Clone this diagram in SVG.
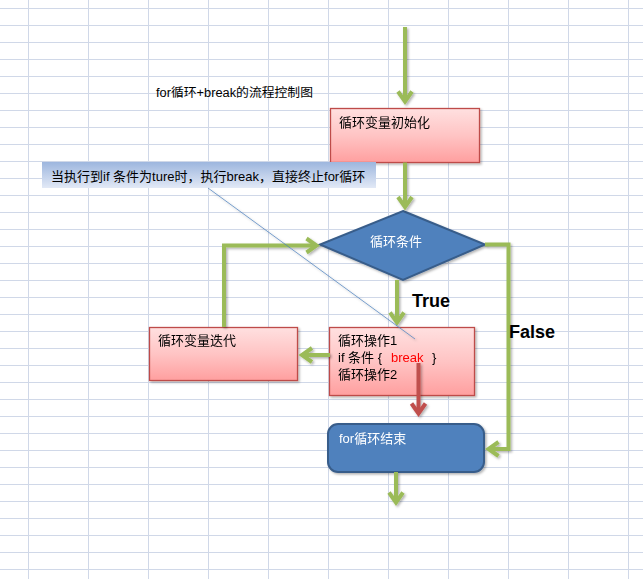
<svg xmlns="http://www.w3.org/2000/svg" width="643" height="579" viewBox="0 0 643 579">
<style>
.grid line{stroke:#d0d8e8;stroke-width:1}
.t{font-family:"Liberation Sans","Noto Sans CJK SC",sans-serif;font-size:13px;fill:#000}
.w{fill:#fff}
.big{font-family:"Liberation Sans",Arial,sans-serif;font-size:18px;font-weight:bold;fill:#000}
.pink{fill:url(#gPink);stroke:#be4b48;stroke-width:1.3}
.blue{fill:#4f81bd;stroke:#385d8a;stroke-width:2}
.g{fill:none;stroke:#9bbb59;stroke-width:4;marker-end:url(#ag)}
.r{fill:none;stroke:#c0504d;stroke-width:4;marker-end:url(#ar)}
</style>
<defs>
<linearGradient id="gPink" x1="0" y1="0" x2="0" y2="1">
<stop offset="0" stop-color="#ffe0e0"/>
<stop offset="0.5" stop-color="#ffc4c4"/>
<stop offset="1" stop-color="#ff9f9f"/>
</linearGradient>
<linearGradient id="gCall" x1="0" y1="0" x2="0" y2="1">
<stop offset="0" stop-color="#9db6de"/>
<stop offset="1" stop-color="#e2e9f6"/>
</linearGradient>
<filter id="sh" x="-10%" y="-10%" width="130%" height="140%">
<feDropShadow dx="1.5" dy="1.5" stdDeviation="1.2" flood-color="#000" flood-opacity="0.3"/>
</filter>
<marker id="ag" markerUnits="userSpaceOnUse" markerWidth="24" markerHeight="24" viewBox="-14 -12 24 24" refX="0" refY="0" orient="auto" overflow="visible">
<path d="M-10,-7 L0,0 L-10,7" fill="none" stroke="#9bbb59" stroke-width="4"/>
</marker>
<marker id="ar" markerUnits="userSpaceOnUse" markerWidth="24" markerHeight="24" viewBox="-14 -12 24 24" refX="0" refY="0" orient="auto" overflow="visible">
<path d="M-10,-7 L0,0 L-10,7" fill="none" stroke="#c0504d" stroke-width="4"/>
</marker>
</defs>
<rect width="643" height="579" fill="#fff"/>
<g class="grid">
<line x1="28.5" y1="0" x2="28.5" y2="579"/><line x1="88.5" y1="0" x2="88.5" y2="579"/><line x1="148.5" y1="0" x2="148.5" y2="579"/><line x1="208.5" y1="0" x2="208.5" y2="579"/><line x1="268.5" y1="0" x2="268.5" y2="579"/><line x1="328.5" y1="0" x2="328.5" y2="579"/><line x1="388.5" y1="0" x2="388.5" y2="579"/><line x1="448.5" y1="0" x2="448.5" y2="579"/><line x1="508.5" y1="0" x2="508.5" y2="579"/><line x1="568.5" y1="0" x2="568.5" y2="579"/><line x1="628.5" y1="0" x2="628.5" y2="579"/>
<line x1="0" y1="8.5" x2="643" y2="8.5"/><line x1="0" y1="25.5" x2="643" y2="25.5"/><line x1="0" y1="42.5" x2="643" y2="42.5"/><line x1="0" y1="59.5" x2="643" y2="59.5"/><line x1="0" y1="76.5" x2="643" y2="76.5"/><line x1="0" y1="93.5" x2="643" y2="93.5"/><line x1="0" y1="110.5" x2="643" y2="110.5"/><line x1="0" y1="127.5" x2="643" y2="127.5"/><line x1="0" y1="144.5" x2="643" y2="144.5"/><line x1="0" y1="161.5" x2="643" y2="161.5"/><line x1="0" y1="178.5" x2="643" y2="178.5"/><line x1="0" y1="195.5" x2="643" y2="195.5"/><line x1="0" y1="212.5" x2="643" y2="212.5"/><line x1="0" y1="229.5" x2="643" y2="229.5"/><line x1="0" y1="246.5" x2="643" y2="246.5"/><line x1="0" y1="263.5" x2="643" y2="263.5"/><line x1="0" y1="280.5" x2="643" y2="280.5"/><line x1="0" y1="297.5" x2="643" y2="297.5"/><line x1="0" y1="314.5" x2="643" y2="314.5"/><line x1="0" y1="331.5" x2="643" y2="331.5"/><line x1="0" y1="348.5" x2="643" y2="348.5"/><line x1="0" y1="365.5" x2="643" y2="365.5"/><line x1="0" y1="382.5" x2="643" y2="382.5"/><line x1="0" y1="399.5" x2="643" y2="399.5"/><line x1="0" y1="416.5" x2="643" y2="416.5"/><line x1="0" y1="433.5" x2="643" y2="433.5"/><line x1="0" y1="450.5" x2="643" y2="450.5"/><line x1="0" y1="467.5" x2="643" y2="467.5"/><line x1="0" y1="484.5" x2="643" y2="484.5"/><line x1="0" y1="501.5" x2="643" y2="501.5"/><line x1="0" y1="518.5" x2="643" y2="518.5"/><line x1="0" y1="535.5" x2="643" y2="535.5"/><line x1="0" y1="552.5" x2="643" y2="552.5"/><line x1="0" y1="569.5" x2="643" y2="569.5"/>
</g>
<g id="title"><text class="t" x="156" y="97" style="font-size:12.5px" textLength="157" lengthAdjust="spacingAndGlyphs">for循环+break的流程控制图</text></g>
<g id="init" filter="url(#sh)">
<rect class="pink" x="330.5" y="108.5" width="149" height="54"/>
<text class="t" x="339" y="127">循环变量初始化</text>
</g>
<g id="cond" filter="url(#sh)">
<polygon class="blue" points="403,211 485,244.5 403,280 320,244.5"/>
<text class="t w" x="396" y="246" text-anchor="middle">循环条件</text>
</g>
<g id="ops" filter="url(#sh)">
<rect class="pink" x="329.5" y="327.5" width="145" height="68"/>
<text class="t" x="338" y="345">循环操作1</text>
<text class="t" x="338" y="362">if 条件 {</text>
<text class="t" x="391" y="362" style="fill:#ff0000">break</text>
<text class="t" x="432" y="362">}</text>
<text class="t" x="338" y="379">循环操作2</text>
</g>
<g id="iter" filter="url(#sh)">
<rect class="pink" x="149.5" y="327.5" width="148" height="53"/>
<text class="t" x="158" y="345">循环变量迭代</text>
</g>
<g id="end" filter="url(#sh)">
<rect class="blue" x="328" y="424" width="156" height="48" rx="10" ry="10"/>
<text class="t w" x="339" y="443">for循环结束</text>
</g>
<g id="note">
<rect x="42" y="162" width="334" height="26" fill="url(#gCall)" stroke="none"/>
<text class="t" x="51" y="181">当执行到if 条件为ture时，执行break，直接终止for循环</text>
</g>
<g id="connectors" filter="url(#sh)">
<path class="g" d="M405,27 V101.5"/>
<path class="g" d="M405,162.5 V207"/>
<path class="g" d="M397,280 V322.5"/>
<path class="g" d="M485,244.5 H508.5 V449 H488.5"/>
<path class="g" d="M330,355 H302"/>
<path class="g" d="M224,327 V245.5 H316.5"/>
<path class="r" d="M418.5,363 V413.5"/>
<path class="g" d="M396,472 V502.5"/>
<line x1="208" y1="188" x2="415" y2="339" stroke="#4f81bd" stroke-width="0.75"/>
</g>
<g id="labels">
<text class="big" x="412" y="307">True</text>
<text class="big" x="509" y="338">False</text>
</g>
</svg>
